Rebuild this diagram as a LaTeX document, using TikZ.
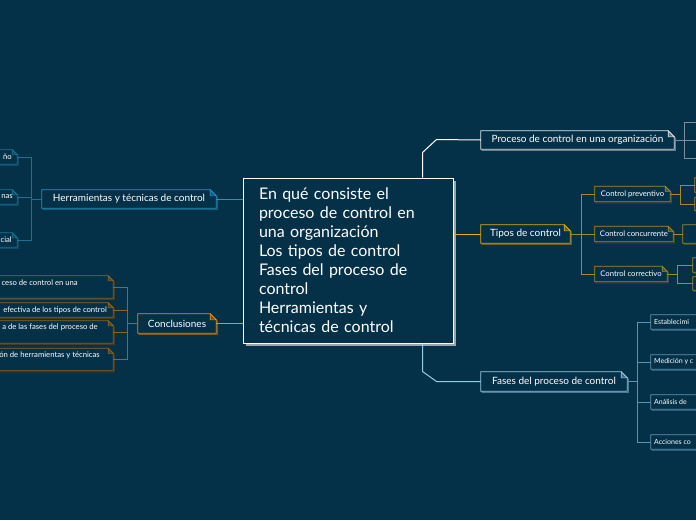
\documentclass[tikz,border=0pt]{standalone}
\usepackage{fontspec}
\setmainfont{Lato}
\usetikzlibrary{calc,shadows}
\definecolor{bgc}{RGB}{5,49,72}
\definecolor{shadowc}{HTML}{9BA3AB}
\definecolor{procc}{HTML}{DFE5EA}
\definecolor{procsh}{HTML}{6E7E8A}
\definecolor{procsub}{HTML}{7C8E9C}
\definecolor{tipc}{HTML}{E6AA12}
\definecolor{tipsh}{HTML}{7A5E10}
\definecolor{tipsub}{HTML}{A08B2A}
\definecolor{tipsubsh}{HTML}{4A4A20}
\definecolor{fasc}{HTML}{94CBE6}
\definecolor{fassh}{HTML}{4A7A96}
\definecolor{fassub}{HTML}{5F93B3}
\definecolor{fassubsh}{HTML}{2A5A74}
\definecolor{herrc}{HTML}{1F95C2}
\definecolor{herrsh}{HTML}{15607C}
\definecolor{herrsub}{HTML}{1A7396}
\definecolor{herrsubsh}{HTML}{104A62}
\definecolor{conclc}{HTML}{EC8C10}
\definecolor{conclsh}{HTML}{8A5510}
\definecolor{conclsub}{HTML}{8F6520}
\definecolor{conclsubsh}{HTML}{4A3A20}
\pgfdeclarelayer{back}
\pgfdeclarelayer{bg}
\pgfsetlayers{back,bg,main}
\newcommand\dogbox[4]{%
\begin{pgfonlayer}{bg}
\draw[draw=#3, line width=0.8pt] ($(#1.south west)+(1.3,1.3)$) -- ($(#1.north west)+(1.3,1.3)$) -- ($(#1.north east)+(1.3-#4,1.3)$) -- ($(#1.north east)+(1.3,1.3+#4)$) -- ($(#1.south east)+(1.3,1.3)$) -- cycle;
\draw[draw=#2, fill=bgc, line width=0.8pt] (#1.south west) -- (#1.north west) -- ($(#1.north east)+(-#4,0)$) -- ($(#1.north east)+(0,#4)$) -- (#1.south east) -- cycle;
\draw[draw=#2, fill=#2!40!bgc, line width=0.6pt] ($(#1.north east)+(-#4,0)$) -- ($(#1.north east)+(-#4,#4)$) -- ($(#1.north east)+(0,#4)$) -- cycle;
\end{pgfonlayer}}
\tikzset{
  lbl/.style={inner sep=0pt, text=white, font=\fontsize{10}{12}\selectfont},
  sml/.style={inner sep=0pt, text=white, font=\fontsize{7.7}{9}\selectfont},
  edgetxt/.style={inner sep=0pt, text=white, font=\fontsize{7}{9}\selectfont},
  conn/.style={line width=1pt},
  subconn/.style={line width=0.8pt},
}
\begin{document}
\begin{tikzpicture}[x=1pt,y=-1pt]
\useasboundingbox (0,0) rectangle (696,520);
\begin{pgfonlayer}{back}\fill[bgc] (0,0) rectangle (696,520);\end{pgfonlayer}

% central topic
\node[draw=white, line width=1pt, fill=bgc, minimum width=210, minimum height=165,
  text width=178, align=left, text=white, font=\fontsize{16}{19}\selectfont,
  drop shadow={shadow xshift=3pt, shadow yshift=-3pt, fill=shadowc, opacity=1}]
  (c) at (348,260.5) {En qué consiste el\\proceso de control en\\una organización\\Los tipos de control\\Fases del proceso de\\control\\Herramientas y\\técnicas de control};

% main branches
\node[lbl, minimum width=193, minimum height=18] (proc) at (577.5,140) {Proceso de control en una organización};
\node[lbl, minimum width=89, minimum height=18] (tipos) at (525.5,234) {Tipos de control};
\node[lbl, minimum width=146, minimum height=19] (fases) at (554,381.5) {Fases del proceso de control};
\node[lbl, minimum width=174, minimum height=18] (herr) at (129,199) {Herramientas y técnicas de control};
\node[lbl, minimum width=78, minimum height=19] (concl) at (177,323.5) {Conclusiones};
\dogbox{proc}{procc}{procsh}{6}
\dogbox{tipos}{tipc}{tipsh}{6}
\dogbox{fases}{fasc}{fassh}{6}
\dogbox{herr}{herrc}{herrsh}{6}
\dogbox{concl}{conclc}{conclsh}{6}

% connectors from central topic
\draw[conn, white] ($(c.north west)+(180,0)$) -- ++(0,-25) -- ++(14,-13) -- (proc.west);
\draw[conn, tipc] (tipos.west -| c.east) -- (tipos.west);
\draw[conn, fasc] ($(c.south west)+(180,0)$) -- ++(0,28) -- ++(14,10) -- (fases.west);
\draw[conn, herrc] (herr.east -| c.west) -- (herr.east);
\draw[conn, conclc] (concl.east -| c.west) -- (concl.east);

% proceso children (off canvas)
\coordinate (p1) at (700,122);
\coordinate (p2) at (700,140);
\coordinate (p3) at (700,158);
\draw[subconn, procsub] (proc.east) -- ++(10,0) |- (p1);
\draw[subconn, procsub] (proc.east) -- (p2);
\draw[subconn, procsub] (proc.east) -- ++(10,0) |- (p3);

% tipos children
\node[sml, minimum width=75, minimum height=15] (prev) at (632.5,194) {Control preventivo};
\node[sml, minimum width=78, minimum height=15] (conc) at (634,234) {Control concurrente};
\node[sml, minimum width=72, minimum height=15] (corr) at (631,274) {Control correctivo};
\dogbox{prev}{tipsub}{tipsubsh}{5}
\dogbox{conc}{tipsub}{tipsubsh}{5}
\dogbox{corr}{tipsub}{tipsubsh}{5}
\draw[subconn, tipsub] (tipos.east) -- ++(11,0) |- (prev.west);
\draw[subconn, tipsub] (tipos.east) -- (conc.west);
\draw[subconn, tipsub] (tipos.east) -- ++(11,0) |- (corr.west);

\node[sml, minimum width=60, minimum height=14] (pv1) at (725,185) {};
\node[sml, minimum width=60, minimum height=13] (pv2) at (725,204) {};
\node[sml, minimum width=60, minimum height=18] (cc1) at (713,234) {};
\node[sml, minimum width=60, minimum height=14] (cr1) at (723,265) {};
\node[sml, minimum width=60, minimum height=13] (cr2) at (723,283.5) {};
\dogbox{pv1}{tipsub}{tipsubsh}{5}
\dogbox{pv2}{tipsub}{tipsubsh}{5}
\dogbox{cc1}{tipsub}{tipsubsh}{5}
\dogbox{cr1}{tipsub}{tipsubsh}{5}
\dogbox{cr2}{tipsub}{tipsubsh}{5}
\draw[subconn, tipsub] (prev.east) -- ++(10,0) |- (pv1.west);
\draw[subconn, tipsub] (prev.east) -- ++(10,0) |- (pv2.west);
\draw[subconn, tipsub] (conc.east) -- (cc1.west);
\draw[subconn, tipsub] (corr.east) -- ++(10,0) |- (cr1.west);
\draw[subconn, tipsub] (corr.east) -- ++(10,0) |- (cr2.west);

% fases children
\node[sml, minimum width=120, minimum height=14] (f1) at (711,322) {};
\node[sml, minimum width=120, minimum height=14] (f2) at (711,362) {};
\node[sml, minimum width=120, minimum height=14] (f3) at (711,402) {};
\node[sml, minimum width=120, minimum height=14] (f4) at (711,442) {};
\dogbox{f1}{fassub}{fassubsh}{5}
\dogbox{f2}{fassub}{fassubsh}{5}
\dogbox{f3}{fassub}{fassubsh}{5}
\dogbox{f4}{fassub}{fassubsh}{5}
\node[edgetxt, anchor=west] (f1t) at (654,322) {Establecimi};
\node[edgetxt, anchor=west] (f2t) at (654,362) {Medición y c};
\node[edgetxt, anchor=west] (f3t) at (654,402) {Análisis de};
\node[edgetxt, anchor=west] (f4t) at (654,442) {Acciones co};
\foreach \f in {f1,f2,f3,f4}{\draw[subconn, fassub] (fases.east) -- ++(10,0) |- (\f.west);}

% herramientas children
\node[sml, minimum width=60, minimum height=14] (h1) at (-13,157) {};
\node[sml, minimum width=60, minimum height=14] (h2) at (-13,197) {};
\node[sml, minimum width=60, minimum height=14] (h3) at (-13,240) {};
\dogbox{h1}{herrsub}{herrsubsh}{5}
\dogbox{h2}{herrsub}{herrsubsh}{5}
\dogbox{h3}{herrsub}{herrsubsh}{5}
\node[sml, anchor=east] (h1t) at (12,157) {ño};
\node[sml, anchor=east] (h2t) at (13,197) {nas};
\node[sml, anchor=east] (h3t) at (12,240) {cial};
\foreach \h in {h1,h2,h3}{\draw[subconn, herrsub] (herr.west) -- ++(-10,0) |- (\h.east);}

% conclusiones children
\node[sml, minimum width=200, minimum height=22] (k1) at (13,287) {};
\node[sml, minimum width=200, minimum height=14] (k2) at (13,310) {};
\node[sml, minimum width=200, minimum height=22] (k3) at (13,332) {};
\node[sml, minimum width=200, minimum height=22] (k4) at (13,359.5) {};
\dogbox{k1}{conclsub}{conclsubsh}{5}
\dogbox{k2}{conclsub}{conclsubsh}{5}
\dogbox{k3}{conclsub}{conclsubsh}{5}
\dogbox{k4}{conclsub}{conclsubsh}{5}
\node[sml, anchor=east] (k1t) at (78,283) {ceso de control en una};
\node[sml, anchor=east] (k2t) at (107,310.5) {efectiva de los tipos de control};
\node[sml, anchor=east] (k3t) at (98,327) {a de las fases del proceso de};
\node[sml, anchor=east] (k4t) at (100,355) {ón de herramientas y técnicas};
\foreach \k in {k1,k2,k3,k4}{\draw[subconn, conclsub] (concl.west) -- ++(-10,0) |- (\k.east);}
\end{tikzpicture}
\end{document}
